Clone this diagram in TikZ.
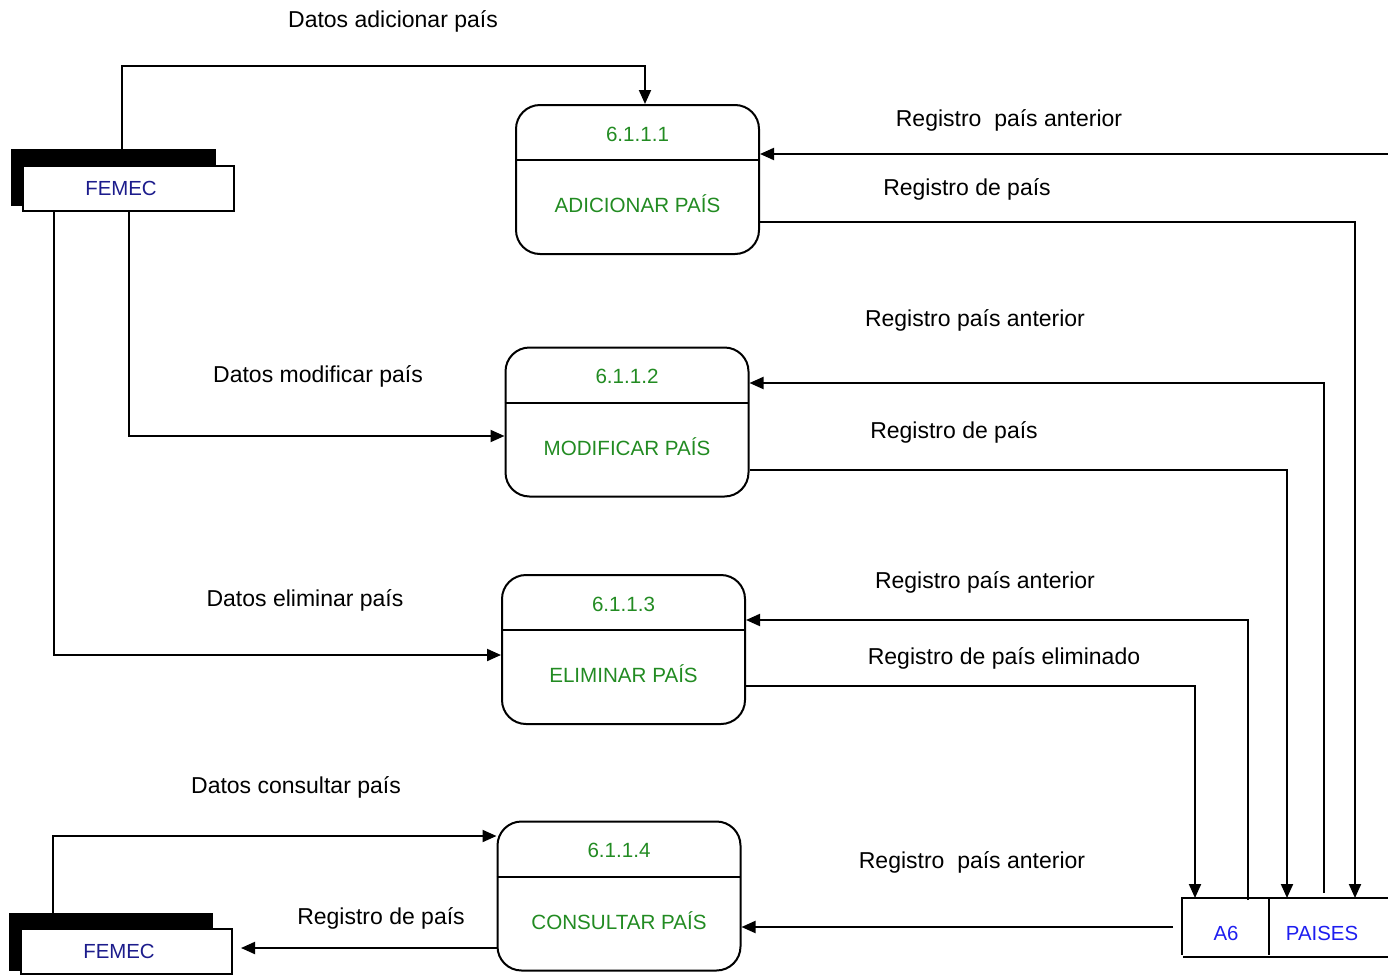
\documentclass[tikz,border=0pt]{standalone}
\usepackage{fontspec}
\setmainfont{Liberation Sans}
\usetikzlibrary{arrows.meta,positioning}
\definecolor{procgreen}{HTML}{228B22}
\definecolor{extblue}{HTML}{1C1C8C}
\definecolor{storeblue}{HTML}{1E1EF0}

\begin{document}
\begin{tikzpicture}[x=0.5pt,y=-0.5pt,
  line/.style={draw=black,line width=1pt},
  flow/.style={line,-{Triangle[length=7pt,width=6pt]}},
  proc/.style={line,rounded corners=12pt,minimum width=121.5pt,minimum height=74.5pt,inner sep=0pt},
  proctext/.style={text=procgreen,font=\fontsize{10.3}{12}\selectfont,inner sep=0pt},
  ext/.style={line,fill=white,minimum width=105.5pt,minimum height=22.5pt,inner sep=0pt,
              text=extblue,font=\fontsize{10.2}{12}\selectfont},
  storetext/.style={text=storeblue,font=\fontsize{10.2}{12}\selectfont,inner sep=0pt},
  lbl/.style={font=\fontsize{11.5}{14}\selectfont,inner sep=0pt}]
  \useasboundingbox (0,0) rectangle (1388,975);

  % procesos
  \foreach \i/\x/\y/\nombre in {1/637.5/179.5/ADICIONAR PAÍS,2/627/422/MODIFICAR PAÍS,
                                3/623.5/649.5/ELIMINAR PAÍS,4/619/896/CONSULTAR PAÍS}{
    \node[proc] (p\i) at (\x,\y) {};
    \draw[line] (p\i.north west) ++(0,56) -- ++(243,0);
    \node[proctext] (n\i) at ([yshift=-15pt]p\i.north) {6.1.1.\i};
    \node[proctext] (t\i) at ([yshift=-50pt]p\i.north) {\nombre};
  }

  % entidad externa
  \fill[black] (11,149) rectangle (216,206);
  \node[ext] (fa) at (128.5,188.5) {FEMEC\kern7.5pt};
  \fill[black] (9,913) rectangle (213,971);
  \node[ext] (fb) at (126.5,951.5) {FEMEC\kern7.5pt};
  \coordinate (fa-top) at (122,149);
  \coordinate (fb-top) at (53,913);

  % almacen
  \draw[line] (1388,898) -- (1182,898) -- (1182,955);
  \draw[line] (1183,957) -- (1388,957);
  \draw[line] (1269,898) -- (1269,955);
  \node[storetext] (a6) at (1226,933) {A6};
  \node[storetext] (paises) at (1322,933) {PAISES};
  \coordinate (s1) at (1355,898);
  \coordinate (s2) at (1287,898);
  \coordinate (s3) at (1195,898);
  \coordinate (r1) at (1388,154);
  \coordinate (r2) at (1324,893);
  \coordinate (r3) at (1248,900);
  \coordinate (r4) at (1173,927);

  % flujos
  \draw[flow] (fa-top) |- (645,66) -- (p1.north -| 645,0);
  \draw[flow] (r1) -- (p1.east |- r1);
  \draw[flow] (p1.east |- 0,222) -| (s1);
  \draw[flow] (fa.south) |- (p2.west |- 0,436);
  \draw[flow] (r2) |- (p2.east |- 0,383);
  \draw[flow] (p2.east |- 0,470) -| (s2);
  \draw[flow] (fa.south -| 54,0) |- (p3.west |- 0,655);
  \draw[flow] (r3) |- (p3.east |- 0,620);
  \draw[flow] (p3.east |- 0,686) -| (s3);
  \draw[flow] (fb-top) |- (p4.west |- 0,836);
  \draw[flow] (r4) -- (p4.east |- r4);
  \draw[flow,shorten >=4pt] (p4.west |- 0,948) -- (fb.east |- 0,948);

  % etiquetas
  \node[lbl] (l1) at (393,21) {Datos adicionar país};
  \node[lbl] (l2) at (1009,120) {Registro~ país anterior};
  \node[lbl] (l3) at (967,189) {Registro de país};
  \node[lbl] (l4) at (975,320) {Registro país anterior};
  \node[lbl] (l5) at (318,376) {Datos modificar país};
  \node[lbl] (l6) at (954,432) {Registro de país};
  \node[lbl] (l7) at (985,582) {Registro país anterior};
  \node[lbl] (l8) at (305,600) {Datos eliminar país};
  \node[lbl] (l9) at (1004,658) {Registro de país eliminado};
  \node[lbl] (l10) at (296,787) {Datos consultar país};
  \node[lbl] (l11) at (972,862) {Registro~ país anterior};
  \node[lbl] (l12) at (381,918) {Registro de país};
\end{tikzpicture}
\end{document}
